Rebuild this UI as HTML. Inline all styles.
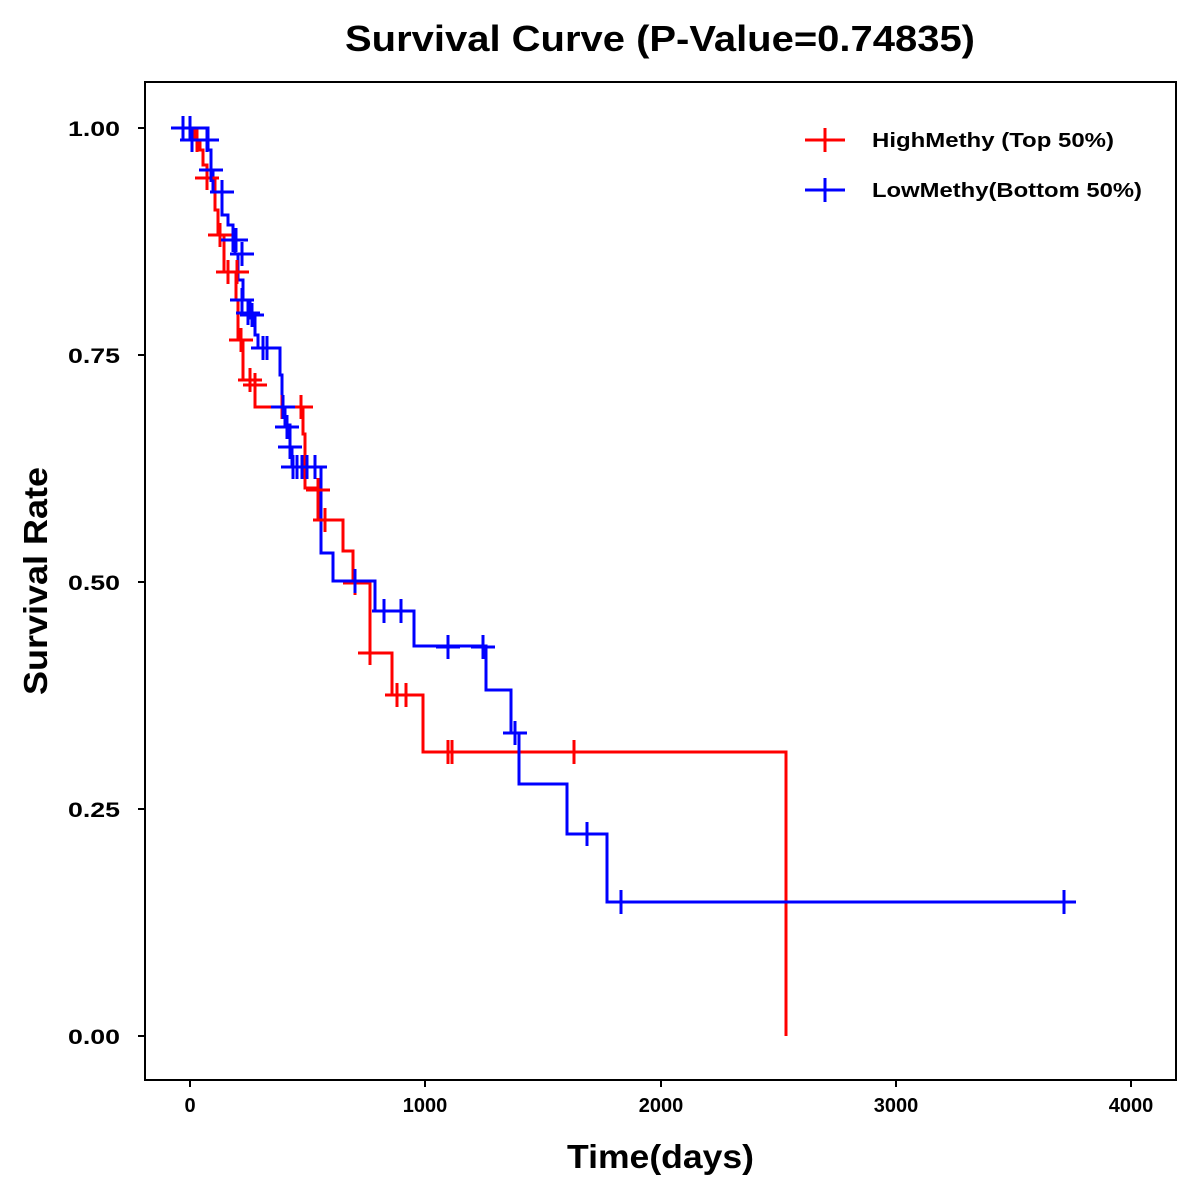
<!DOCTYPE html>
<html><head><meta charset="utf-8"><style>body{margin:0;background:#fff}svg{display:block}</style></head><body>
<svg width="1200" height="1200" xmlns="http://www.w3.org/2000/svg" font-family="Liberation Sans, Arial, sans-serif" font-weight="bold">
<text x="345" y="51" font-size="36" textLength="630" lengthAdjust="spacingAndGlyphs">Survival Curve (P-Value=0.74835)</text>
<rect x="145" y="82" width="1031" height="998" fill="none" stroke="#000" stroke-width="2"/>
<g stroke="#000" stroke-width="2">
<line x1="138" y1="128" x2="145" y2="128"/><line x1="138" y1="355" x2="145" y2="355"/><line x1="138" y1="582" x2="145" y2="582"/><line x1="138" y1="809" x2="145" y2="809"/><line x1="138" y1="1036" x2="145" y2="1036"/>
<line x1="190" y1="1080" x2="190" y2="1087"/><line x1="425" y1="1080" x2="425" y2="1087"/><line x1="661" y1="1080" x2="661" y2="1087"/><line x1="896" y1="1080" x2="896" y2="1087"/><line x1="1131" y1="1080" x2="1131" y2="1087"/>
</g>
<g font-size="21">
<text x="68" y="136" textLength="52" lengthAdjust="spacingAndGlyphs">1.00</text><text x="68" y="363" textLength="52" lengthAdjust="spacingAndGlyphs">0.75</text><text x="68" y="590" textLength="52" lengthAdjust="spacingAndGlyphs">0.50</text><text x="68" y="817" textLength="52" lengthAdjust="spacingAndGlyphs">0.25</text><text x="68" y="1044" textLength="52" lengthAdjust="spacingAndGlyphs">0.00</text>
</g>
<g font-size="20" text-anchor="middle">
<text x="190" y="1112">0</text><text x="425" y="1112">1000</text><text x="661" y="1112">2000</text><text x="896" y="1112">3000</text><text x="1131" y="1112">4000</text>
</g>
<text x="567" y="1168" font-size="33" textLength="187" lengthAdjust="spacingAndGlyphs">Time(days)</text>
<text transform="translate(47,695) rotate(-90)" font-size="33" textLength="228" lengthAdjust="spacingAndGlyphs">Survival Rate</text>
<g fill="none" stroke-width="3">
<path stroke="#f00" d="M180,128 H195 V140 H200 V150 H203 V165 H207 V178 H215 V210 H218 V235 H224 V272 H236 V300 H238 V340 H243 V380 H255 V407 H303 V434 H305 V488 H318 V520 H343 V551 H353 V583 H370 V653 H392 V695 H423 V752 H786 V1036"/>
<path stroke="#00f" d="M180,128 H208 V150 H211 V170 H213 V192 H222 V215 H228 V225 H233 V238 H235 V254 H238 V280 H243 V300 H250 V318 H255 V335 H258 V348 H280 V375 H282 V407 H285 V425 H290 V447 H292 V467 H321 V553 H333 V581 H375 V611 H414 V646 H486 V690 H511 V733 H519 V784 H567 V834 H607 V902 H1066"/>
</g>
<g stroke="#f00" stroke-width="3" fill="none">
<path d="M190,116v24M178,128h24 M197,128v24M185,140h24 M207,166v24M195,178h24 M220,223v24M208,235h24 M228,260v24M216,272h24 M237,260v24M225,272h24 M241,328v24M229,340h24 M250,368v24M238,380h24 M255,373v24M243,385h24 M282,395v24M270,407h24 M301,395v24M289,407h24 M318,478v24M306,490h24 M325,508v24M313,520h24 M355,571v24M343,583h24 M370,641v24M358,653h24 M397,683v24M385,695h24 M406,683v24M394,695h24 M448,740v24M436,752h24 M452,740v24M440,752h24 M574,740v24M562,752h24"/>
</g>
<g stroke="#00f" stroke-width="3" fill="none">
<path d="M183,116v24M171,128h24 M190,116v24M178,128h24 M192,128v24M180,140h24 M207,128v24M195,140h24 M211,158v24M199,170h24 M222,180v24M210,192h24 M233,228v24M221,240h24 M236,228v24M224,240h24 M242,242v24M230,254h24 M242,288v24M230,300h24 M248,301v24M236,313h24 M252,303v24M240,315h24 M263,336v24M251,348h24 M267,336v24M255,348h24 M283,395v24M271,407h24 M287,415v24M275,427h24 M290,435v24M278,447h24 M293,455v24M281,467h24 M297,455v24M285,467h24 M302,455v24M290,467h24 M307,455v24M295,467h24 M315,455v24M303,467h24 M355,569v24M343,581h24 M384,599v24M372,611h24 M401,599v24M389,611h24 M448,635v24M436,647h24 M483,635v24M471,647h24 M515,721v24M503,733h24 M587,822v24M575,834h24 M621,890v24M609,902h24 M1064,890v24M1052,902h24"/>
</g>
<g stroke-width="3">
<path stroke="#f00" d="M805,140h40M825,128v24"/>
<path stroke="#00f" d="M805,190h40M825,178v24"/>
</g>
<g font-size="20">
<text x="872" y="147" textLength="242" lengthAdjust="spacingAndGlyphs">HighMethy (Top 50%)</text>
<text x="872" y="197" textLength="270" lengthAdjust="spacingAndGlyphs">LowMethy(Bottom 50%)</text>
</g>
</svg>
</body></html>
